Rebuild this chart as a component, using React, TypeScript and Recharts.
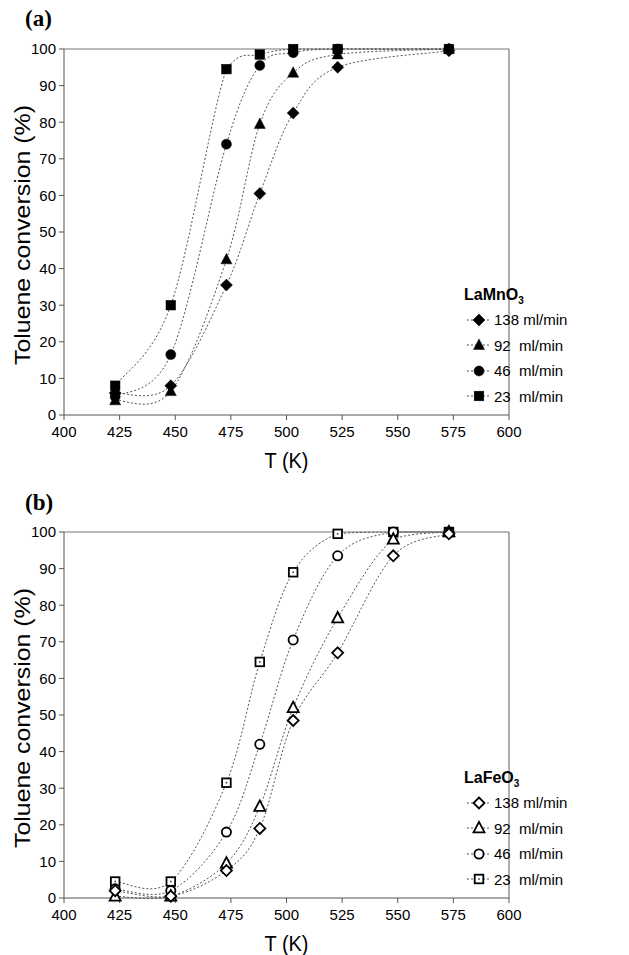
import React from 'react';
import { LineChart, Line, XAxis, YAxis, ReferenceLine } from 'recharts';

const tempsA = [423, 448, 473, 488, 503, 523, 573];
const mn138 = [6, 8, 35.5, 60.5, 82.5, 95, 99.5];
const mn92 = [4, 6.5, 42.5, 79.5, 93.5, 98.5, 100];
const mn46 = [5, 16.5, 74, 95.5, 99, 100, 100];
const mn23 = [8, 30, 94.5, 98.5, 100, 100, 100];

const tempsB = [423, 448, 473, 488, 503, 523, 548, 573];
const fe138 = [2, 0.5, 7.5, 19, 48.5, 67, 93.5, 99.5];
const fe92 = [0.5, 0.5, 9.5, 25, 52, 76.5, 98, 100];
const fe46 = [2.5, 2, 18, 42, 70.5, 93.5, 100, 100];
const fe23 = [4.5, 4.5, 31.5, 64.5, 89, 99.5, 100, 100];

const seriesNames = ['138 ml/min', '92  ml/min', '46  ml/min', '23  ml/min'];
const shapes = ['diamond', 'triangle', 'circle', 'square'];
const xTicks = [400, 425, 450, 475, 500, 525, 550, 575, 600];
const yTicks = [0, 10, 20, 30, 40, 50, 60, 70, 80, 90, 100];

const FONT = '"Liberation Sans", Arial, sans-serif';

function catmull(context: any) {
  let pts: number[][] = [];
  return {
    areaStart() {},
    areaEnd() {},
    lineStart() { pts = []; },
    point(x: number, y: number) { pts.push([+x, +y]); },
    lineEnd() {
      if (!pts.length) return;
      const top = Math.min(...pts.map((p) => p[1]));
      const cl = (v: number) => Math.max(v, top);
      context.moveTo(pts[0][0], pts[0][1]);
      const t = 1 / 6;
      for (let i = 0; i < pts.length - 1; i++) {
        const p0 = pts[i - 1] || pts[i];
        const p1 = pts[i];
        const p2 = pts[i + 1];
        const p3 = pts[i + 2] || p2;
        context.bezierCurveTo(
          p1[0] + (p2[0] - p0[0]) * t, cl(p1[1] + (p2[1] - p0[1]) * t),
          p2[0] - (p3[0] - p1[0]) * t, cl(p2[1] - (p3[1] - p1[1]) * t),
          p2[0], p2[1]
        );
      }
    },
  };
}

function Marker({ shape, cx, cy, open }: { shape: string; cx: number; cy: number; open: boolean }) {
  const fill = open ? '#fff' : '#000';
  const stroke = '#000';
  const sw = open ? 1.8 : 0.5;
  if (shape === 'diamond') {
    const r = open ? 5.5 : 6;
    return <polygon points={`${cx},${cy - r} ${cx + r},${cy} ${cx},${cy + r} ${cx - r},${cy}`} fill={fill} stroke={stroke} strokeWidth={sw} />;
  }
  if (shape === 'triangle') {
    const r = 5.5;
    return <polygon points={`${cx},${cy - r * 1.1} ${cx + r},${cy + r * 0.8} ${cx - r},${cy + r * 0.8}`} fill={fill} stroke={stroke} strokeWidth={sw} strokeLinejoin="miter" />;
  }
  if (shape === 'circle') {
    return <circle cx={cx} cy={cy} r={open ? 4.6 : 5} fill={fill} stroke={stroke} strokeWidth={sw} />;
  }
  const s = open ? 4.3 : 4.8;
  return (
    <g>
      <rect x={cx - s} y={cy - s} width={2 * s} height={2 * s} fill={fill} stroke={stroke} strokeWidth={sw} />
      {open && <rect x={cx - 0.8} y={cy - 0.8} width={1.6} height={1.6} fill="#444" />}
    </g>
  );
}

function makeDot(shape: string, open: boolean) {
  return (props: any) => {
    const { cx, cy, index } = props;
    if (cx == null || cy == null) return <g key={index} />;
    return <Marker key={index} shape={shape} cx={cx} cy={cy} open={open} />;
  };
}

function LegendBox({ title, open, left, top }: { title: string; open: boolean; left: number; top: number }) {
  return (
    <div style={{ position: 'absolute', left, top, width: 140, fontFamily: FONT, color: '#000' }}>
      <div style={{ fontWeight: 'bold', fontSize: 16, height: 24, lineHeight: '24px' }}>
        {title}<sub style={{ fontSize: 10 }}>3</sub>
      </div>
      {seriesNames.map((n, i) => (
        <div key={n} style={{ display: 'flex', alignItems: 'center', height: 25.5 }}>
          <svg width={30} height={16} style={{ display: 'block' }}>
            <line x1={3} y1={8} x2={27} y2={8} stroke="#555" strokeDasharray="2 2" strokeWidth={1} />
            <Marker shape={shapes[i]} cx={15} cy={8} open={open} />
          </svg>
          <span style={{ fontSize: 15, whiteSpace: 'pre' }}>{n}</span>
        </div>
      ))}
    </div>
  );
}

function XLabel(props: any) {
  const vb = props.viewBox || {};
  return (
    <text x={vb.x + vb.width / 2} y={vb.y + 53} textAnchor="middle" fontFamily={FONT} fontSize={22} textLength={44} lengthAdjust="spacingAndGlyphs" fill="#000">
      T (K)
    </text>
  );
}

function YLabel(props: any) {
  const vb = props.viewBox || {};
  const cy = vb.y + vb.height / 2 + 3;
  return (
    <text x={22} y={cy} transform={`rotate(-90, 22, ${cy})`} textAnchor="middle" dominantBaseline="central" fontFamily={FONT} fontSize={22} textLength={260} lengthAdjust="spacingAndGlyphs" fill="#000">
      Toluene conversion (%)
    </text>
  );
}

function Panel({ temps, series, open, marginTop, height }: any) {
  const data = temps.map((t: number, i: number) => {
    const row: any = { t };
    series.forEach((s: number[], k: number) => { row['s' + k] = s[i]; });
    return row;
  });
  return (
    <LineChart width={629} height={height} data={data} margin={{ top: marginTop, right: 120, left: 24, bottom: height - marginTop - 366 - 60 }}>
      <XAxis
        dataKey="t"
        type="number"
        domain={[400, 600]}
        ticks={xTicks}
        interval={0}
        height={60}
        tickSize={5}
        tickMargin={6}
        stroke="#555"
        tick={{ fill: '#000', fontSize: 15, fontFamily: FONT }}
        label={<XLabel />}
      />
      <YAxis
        type="number"
        domain={[0, 100]}
        ticks={yTicks}
        interval={0}
        width={40}
        tickSize={5}
        tickMargin={3}
        stroke="#555"
        tick={{ fill: '#000', fontSize: 15, fontFamily: FONT }}
        label={<YLabel />}
      />
      <ReferenceLine y={100} stroke="#777" strokeWidth={1.2} ifOverflow="visible" />
      <ReferenceLine x={600} stroke="#777" strokeWidth={1.2} ifOverflow="visible" />
      {series.map((_: number[], k: number) => (
        <Line
          key={k}
          dataKey={'s' + k}
          name={seriesNames[k]}
          type={catmull as any}
          stroke="#555"
          strokeWidth={1}
          strokeDasharray="2 2"
          dot={makeDot(shapes[k], open)}
          activeDot={false}
          isAnimationActive={false}
        />
      )).reverse()}
    </LineChart>
  );
}

export default function App() {
  return (
    <div style={{ position: 'absolute', left: 0, top: 0, width: 629, height: 955, background: '#fff' }}>
      <div style={{ position: 'absolute', left: 0, top: 0 }}>
        <Panel temps={tempsA} series={[mn138, mn92, mn46, mn23]} open={false} marginTop={49} height={478} />
      </div>
      <div style={{ position: 'absolute', left: 0, top: 478 }}>
        <Panel temps={tempsB} series={[fe138, fe92, fe46, fe23]} open={true} marginTop={54} height={477} />
      </div>
      <LegendBox title="LaMnO" open={false} left={464} top={283} />
      <LegendBox title="LaFeO" open={true} left={464} top={766} />
      <div style={{ position: 'absolute', left: 25, top: 6, fontFamily: '"Liberation Serif", serif', fontWeight: 'bold', fontSize: 23 }}>(a)</div>
      <div style={{ position: 'absolute', left: 25, top: 490, fontFamily: '"Liberation Serif", serif', fontWeight: 'bold', fontSize: 23 }}>(b)</div>
    </div>
  );
}
